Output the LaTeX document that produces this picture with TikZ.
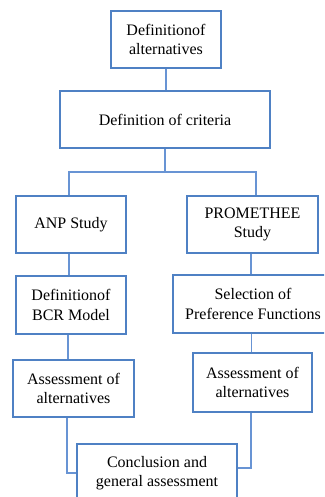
\documentclass[tikz,border=0pt]{standalone}
\usepackage{fontspec}
\setmainfont{Liberation Serif}
\usetikzlibrary{positioning}
\definecolor{boxblue}{RGB}{79,129,196}
\definecolor{lineblue}{RGB}{104,148,212}

\begin{document}
\begin{tikzpicture}[x=1pt,y=-1pt,
    stage/.style={draw=boxblue,line width=1.3pt,fill=white,align=center,inner sep=2pt,
        font=\fontsize{16}{19.5}\selectfont},
    link/.style={draw=lineblue,line width=1.8pt}]
            \clip (0,0) rectangle (324,497);
            \fill[white] (0,0) rectangle (324,497);
            \node[stage,minimum width=110pt,minimum height=57pt] (alts) at (166,39.5){Definitionof\\alternatives};
            \node[stage,minimum width=210pt,minimum height=57pt] (crit) at (165,119.5){Definition of criteria};
            \node[stage,minimum width=110pt,minimum height=57pt] (anp) at (71,224.5){ANP Study};
            \node[stage,minimum width=131pt,minimum height=57pt] (prom) at (252.5,224.5){PROMETHEE\\Study};
            \node[stage,minimum width=110pt,minimum height=58pt] (bcr) at (71,305){Definitionof\\BCR Model};
            \node[stage,minimum width=160pt,minimum height=58pt] (pref) at (253,304){Selection of\\Preference Functions};
            \node[stage,minimum width=121pt,minimum height=57pt] (assessL) at (73.5,388.5){Assessment of\\alternatives};
            \node[stage,minimum width=119pt,minimum height=59pt] (assessR) at (252.5,382.5){Assessment of\\alternatives};
            \node[stage,minimum width=160pt,minimum height=58pt] (concl) at (157,473){Conclusion and\\general assessment};
            \coordinate (split) at (165,172);
            \draw[link] (alts) -- (alts |- crit.north);
            \draw[link] (crit) -- (split);
            \draw[link] (split) -| ([xshift=-2pt]anp.north);
            \draw[link] (split) -| ([xshift=3.5pt]prom.north);
            \draw[link] ([xshift=-2pt]anp.south) -- ([xshift=-2pt]anp.south |- bcr.north);
            \draw[link] ([xshift=-1.5pt]prom.south) -- ([xshift=-1.5pt]prom.south |- pref.north);
            \draw[link] ([xshift=-3pt]bcr.south) -- ([xshift=-3pt]bcr.south |- assessL.north);
            \draw[link] ([xshift=-1.5pt]pref.south) -- ([xshift=-1.5pt]pref.south |- assessR.north);
            \draw[link] ([xshift=-6.5pt]assessL.south) |- (concl.west);
            \draw[link] ([xshift=-1.5pt]assessR.south) |- ([yshift=5pt]concl.east);
        \end{tikzpicture}
\end{document}
